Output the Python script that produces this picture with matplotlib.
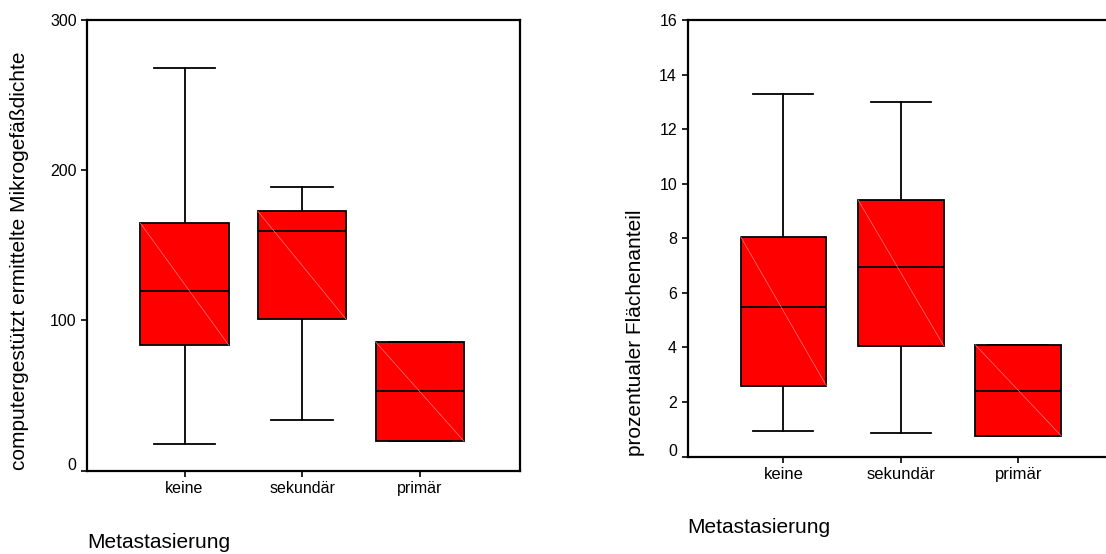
import matplotlib
matplotlib.use("Agg")
import matplotlib.pyplot as plt

plt.rcParams['font.family'] = ['Liberation Sans', 'DejaVu Sans']

# ---- data ----
categories = ["keine", "sekundär", "primär"]
x_title = "Metastasierung"

# left panel: computergestützt ermittelte Mikrogefäßdichte
left_ylabel = "computergestützt ermittelte Mikrogefäßdichte"
left_whislo = [17.6, 33.8, 19.7]
left_q1 = [83.6, 100.7, 19.7]
left_med = [119.7, 159.2, 52.8]
left_q3 = [164.6, 172.5, 85.7]
left_whishi = [268.3, 189.0, 85.7]
left_yticks = [0, 100, 200, 300]

# right panel: prozentualer Flächenanteil
right_ylabel = "prozentualer Flächenanteil"
right_whislo = [0.92, 0.85, 0.76]
right_q1 = [2.60, 4.06, 0.76]
right_med = [5.48, 6.94, 2.39]
right_q3 = [8.06, 9.41, 4.09]
right_whishi = [13.27, 12.98, 4.09]
right_yticks = [0, 2, 4, 6, 8, 10, 12, 14, 16]

W, H = 1106, 554
fig = plt.figure(figsize=(W / 100, H / 100), dpi=100)


def px_axes(left, top, right, bottom):
    return fig.add_axes([left / W, 1 - bottom / H, (right - left) / W, (bottom - top) / H])


def draw_panel(ax, whislo, q1, med, q3, whishi, yticks, ylabel, xlim,
               box_w, cap_w, ylab_x, xlab_y, xtick_size, ytick_size):
    positions = list(range(1, len(categories) + 1))
    stats = []
    for i, c in enumerate(categories):
        stats.append(dict(label=c, whislo=whislo[i], q1=q1[i], med=med[i],
                          q3=q3[i], whishi=whishi[i], fliers=[]))
    ax.bxp(stats, positions=positions, widths=box_w, capwidths=cap_w,
           patch_artist=True, showfliers=False,
           boxprops=dict(facecolor='#ff0000', edgecolor='black', linewidth=1.3),
           medianprops=dict(color='black', linewidth=1.3),
           whiskerprops=dict(color='black', linewidth=1.3),
           capprops=dict(color='black', linewidth=1.3))
    # thin diagonal line inside each box (as in the original rendering)
    for p, lo, hi in zip(positions, q1, q3):
        ax.plot([p - box_w / 2, p + box_w / 2], [hi, lo], color='#ff7a7a',
                linewidth=0.5, zorder=2.5)
    ax.set_xlim(*xlim)
    ax.set_ylim(yticks[0], yticks[-1])
    ax.set_yticks(yticks)
    ax.set_yticklabels([str(t) for t in yticks], fontsize=ytick_size)
    ax.set_xticks(positions)
    ax.set_xticklabels(categories, fontsize=xtick_size)
    ax.tick_params(axis='both', direction='out', length=4, width=1.2, pad=3.5)
    ax.yaxis.get_ticklabels()[0].set_va('baseline')
    for s in ax.spines.values():
        s.set_linewidth(1.6)
    ax.set_ylabel(ylabel, fontsize=15, loc='bottom')
    ax.yaxis.set_label_coords(ylab_x, 0)
    ax.set_xlabel(x_title, fontsize=15, loc='left')
    ax.xaxis.label.set_va('baseline')
    ax.xaxis.set_label_coords(0, xlab_y)


ax1 = px_axes(87, 20, 519.5, 470.5)
draw_panel(ax1, left_whislo, left_q1, left_med, left_q3, left_whishi,
           left_yticks, left_ylabel, (0.17, 3.85), 0.75, 0.526,
           -0.134, -0.172, 11.5, 11.5)

ax2 = px_axes(687.5, 20, 1115.7, 456.5)
draw_panel(ax2, right_whislo, right_q1, right_med, right_q3, right_whishi,
           right_yticks, right_ylabel, (0.183, 3.83), 0.73, 0.51,
           -0.100, -0.176, 12, 11.5)

fig.savefig("out.png", dpi=100)
